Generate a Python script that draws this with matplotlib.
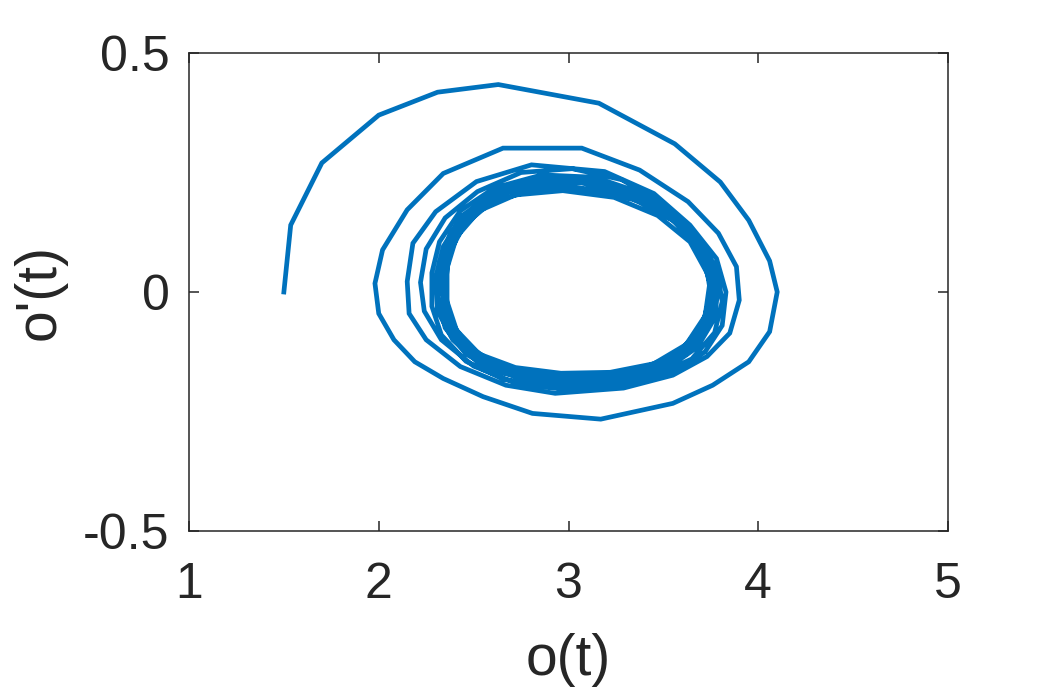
import numpy as np
import matplotlib.pyplot as plt

plt.rcParams['font.family'] = ['Liberation Sans', 'DejaVu Sans']

# first two turns of the spiral
o_start = [1.50, 1.536, 1.70, 2.00, 2.31, 2.63, 3.16, 3.56, 3.80, 3.95, 4.06, 4.10,
           4.06, 3.95, 3.76, 3.55, 3.17, 2.81, 2.55, 2.34, 2.19, 2.08, 2.00, 1.98,
           2.02, 2.15, 2.34, 2.655, 3.07, 3.375, 3.63, 3.79, 3.885, 3.90, 3.85, 3.73,
           3.55, 3.29, 2.93, 2.67, 2.43, 2.25, 2.16, 2.15, 2.18, 2.30, 2.515, 2.805,
           3.19, 3.45]
do_start = [0.00, 0.14, 0.27, 0.37, 0.418, 0.434, 0.395, 0.31, 0.23, 0.15, 0.065, 0.00,
            -0.083, -0.146, -0.195, -0.233, -0.266, -0.254, -0.219, -0.181, -0.146, -0.10, -0.045, 0.018,
            0.088, 0.172, 0.248, 0.301, 0.301, 0.255, 0.189, 0.123, 0.053, -0.017, -0.086, -0.135,
            -0.174, -0.201, -0.212, -0.195, -0.156, -0.10, -0.045, 0.022, 0.102, 0.168, 0.231, 0.266,
            0.252, 0.206]

# later turns settling onto the cycle
o_cycle = [3.64, 3.78, 3.83, 3.81, 3.72, 3.55, 3.30, 3.00, 2.72, 2.50, 2.33, 2.24, 2.22, 2.25, 2.35, 2.52, 2.75, 3.02, 3.28,
           3.50, 3.67, 3.78, 3.81, 3.77, 3.65, 3.46, 3.20, 2.92, 2.66, 2.46, 2.33, 2.28, 2.28, 2.32, 2.43, 2.61, 2.86, 3.14, 3.40,
           3.60, 3.73, 3.79, 3.77, 3.68, 3.52, 3.29, 3.02, 2.75, 2.53, 2.39, 2.31, 2.30, 2.34, 2.44, 2.62, 2.87, 3.15, 3.41,
           3.61, 3.74, 3.78, 3.74, 3.62, 3.43, 3.18, 2.90, 2.64, 2.46, 2.35, 2.31, 2.32, 2.38, 2.51, 2.72, 2.98, 3.26, 3.49,
           3.66, 3.76, 3.77, 3.71, 3.57, 3.36, 3.10, 2.83, 2.59, 2.43, 2.35, 2.33, 2.35, 2.43, 2.58, 2.80, 3.07, 3.34, 3.55,
           3.70, 3.76, 3.74, 3.65, 3.48, 3.25, 2.98, 2.72, 2.52, 2.40, 2.34, 2.345, 2.39, 2.50, 2.68, 2.93, 3.20, 3.44, 3.62,
           3.72, 3.75, 3.70, 3.57, 3.37, 3.12, 2.86, 2.62, 2.46, 2.37, 2.35, 2.37, 2.45, 2.60, 2.82, 3.08, 3.34, 3.55, 3.69,
           3.745, 3.72, 3.62, 3.45, 3.22, 2.96, 2.72, 2.53, 2.41, 2.36, 2.36, 2.41, 2.53, 2.72, 2.97, 3.24, 3.47, 3.64, 3.73]
do_cycle = [0.14, 0.07, 0.00, -0.07, -0.125, -0.168, -0.196, -0.205, -0.19, -0.155, -0.10, -0.04, 0.02, 0.09, 0.155, 0.21, 0.25, 0.258, 0.235,
            0.185, 0.12, 0.05, -0.02, -0.085, -0.14, -0.175, -0.198, -0.20, -0.183, -0.145, -0.09, -0.03, 0.04, 0.105, 0.17, 0.218, 0.245, 0.24, 0.205,
            0.15, 0.085, 0.015, -0.055, -0.115, -0.16, -0.188, -0.195, -0.182, -0.15, -0.10, -0.04, 0.03, 0.095, 0.16, 0.21, 0.238, 0.235, 0.20,
            0.145, 0.075, 0.00, -0.07, -0.13, -0.17, -0.19, -0.188, -0.168, -0.13, -0.075, -0.01, 0.06, 0.125, 0.18, 0.22, 0.235, 0.22, 0.18,
            0.12, 0.05, -0.025, -0.09, -0.14, -0.172, -0.184, -0.178, -0.155, -0.11, -0.055, 0.01, 0.08, 0.145, 0.195, 0.225, 0.228, 0.205, 0.16,
            0.10, 0.025, -0.05, -0.11, -0.155, -0.178, -0.18, -0.168, -0.135, -0.085, -0.025, 0.045, 0.11, 0.17, 0.21, 0.222, 0.212, 0.18, 0.13,
            0.07, -0.005, -0.075, -0.13, -0.163, -0.175, -0.172, -0.152, -0.11, -0.055, 0.01, 0.08, 0.14, 0.19, 0.213, 0.215, 0.195, 0.15, 0.09,
            0.02, -0.05, -0.11, -0.15, -0.168, -0.17, -0.158, -0.13, -0.08, -0.02, 0.05, 0.115, 0.17, 0.203, 0.212, 0.198, 0.16, 0.105, 0.04]

o = np.array(o_start + o_cycle)
do = np.array(do_start + do_cycle)

xticks = [1, 2, 3, 4, 5]
yticks = [-0.5, 0, 0.5]
xticklabels = ['1', '2', '3', '4', '5']
yticklabels = ['-0.5', '0', '0.5']

fig = plt.figure(figsize=(10.47, 6.88), dpi=100)
ax = fig.add_axes([189/1047, 157/688, 759/1047, 478/688])

ax.plot(o, do, color='#0072BD', lw=3.4, solid_joinstyle='miter')

ax.set_xlim(1, 5)
ax.set_ylim(-0.5, 0.5)
ax.set_xticks(xticks)
ax.set_xticklabels(xticklabels)
ax.set_yticks(yticks)
ax.set_yticklabels(yticklabels)

for s in ax.spines.values():
    s.set_color('#262626')
    s.set_linewidth(1.1)
ax.tick_params(direction='in', length=7, width=1.1, color='#262626',
               labelcolor='#262626', labelsize=36, top=True, right=True)
ax.tick_params(axis='x', pad=22)
ax.tick_params(axis='y', pad=14)

ax.set_xlabel('o(t)', fontsize=41, color='#262626', labelpad=18)
ax.set_ylabel("o'(t)", fontsize=41, color='#262626', labelpad=12)

fig.savefig('out.png', dpi=100)
